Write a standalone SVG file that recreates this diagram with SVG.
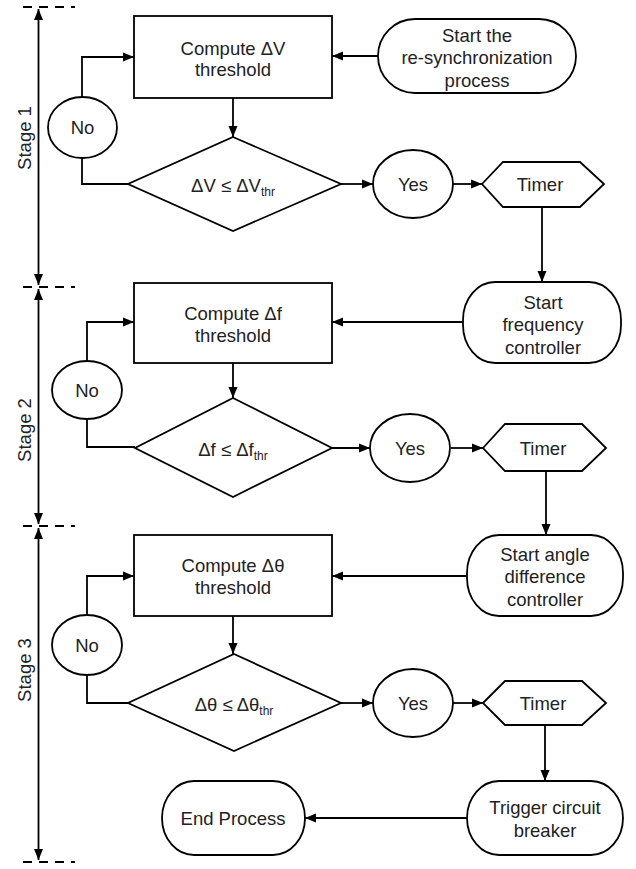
<svg xmlns="http://www.w3.org/2000/svg" width="636" height="869" viewBox="0 0 636 869">
<style>
.s{fill:#fff;stroke:#000;stroke-width:1.8}
.t{font-family:"Liberation Sans",Arial,sans-serif;font-size:18.5px;fill:#222;text-anchor:middle}
.c{fill:none;stroke:#000;stroke-width:1.8}
.d{fill:none;stroke:#000;stroke-width:1.8;stroke-dasharray:9,7}
</style>
<defs>
<marker id="a" markerUnits="userSpaceOnUse" markerWidth="12" markerHeight="10" refX="11" refY="5" orient="auto"><path d="M0,0.5 L11,5 L0,9.5 z" fill="#000"/></marker>
<marker id="b" markerUnits="userSpaceOnUse" markerWidth="12" markerHeight="10" refX="1" refY="5" orient="auto"><path d="M12,0.5 L1,5 L12,9.5 z" fill="#000"/></marker>
</defs>
<g id="stages">
<path class="d" d="M23,7 H75 M23,287 H75 M23,526 H75 M23,862 H75"/>
<path class="c" d="M38.5,9 V285" marker-start="url(#b)" marker-end="url(#a)"/>
<path class="c" d="M38.5,289 V524" marker-start="url(#b)" marker-end="url(#a)"/>
<path class="c" d="M38.5,528 V860" marker-start="url(#b)" marker-end="url(#a)"/>
<text class="t" transform="translate(31,138) rotate(-90)">Stage 1</text>
<text class="t" transform="translate(31,430) rotate(-90)">Stage 2</text>
<text class="t" transform="translate(31,670) rotate(-90)">Stage 3</text>
</g>
<g id="connectors">
<path class="c" d="M378,56 H332" marker-end="url(#a)"/>
<path class="c" d="M233,98 V137" marker-end="url(#a)"/>
<path class="c" d="M128,184 H82 V158"/>
<path class="c" d="M82,97 V57 H134" marker-end="url(#a)"/>
<path class="c" d="M341,184 H373" marker-end="url(#a)"/>
<path class="c" d="M453,184 H482" marker-end="url(#a)"/>
<path class="c" d="M542,207 V282" marker-end="url(#a)"/>
<path class="c" d="M463,322 H332" marker-end="url(#a)"/>
<path class="c" d="M233,363 V398" marker-end="url(#a)"/>
<path class="c" d="M135,447 H87 V419"/>
<path class="c" d="M87,361 V322 H134" marker-end="url(#a)"/>
<path class="c" d="M332,448 H370" marker-end="url(#a)"/>
<path class="c" d="M451,448 H483" marker-end="url(#a)"/>
<path class="c" d="M546,471 V535" marker-end="url(#a)"/>
<path class="c" d="M467,576 H332" marker-end="url(#a)"/>
<path class="c" d="M233,616 V654" marker-end="url(#a)"/>
<path class="c" d="M128,703 H87 V675"/>
<path class="c" d="M87,615 V576 H134" marker-end="url(#a)"/>
<path class="c" d="M341,703 H373" marker-end="url(#a)"/>
<path class="c" d="M453,703 H483" marker-end="url(#a)"/>
<path class="c" d="M545,725 V781" marker-end="url(#a)"/>
<path class="c" d="M467,818 H305" marker-end="url(#a)"/>
</g>
<g id="start1"><rect class="s" x="378" y="19" width="198" height="74" rx="37" ry="37"/>
<text class="t"><tspan x="477" y="41.5">Start the</tspan><tspan x="477" y="64">re-synchronization</tspan><tspan x="477" y="86.5">process</tspan></text></g>
<g id="compute1"><rect class="s" x="134" y="16" width="198" height="82"/>
<text class="t"><tspan x="233" y="54.5">Compute ΔV</tspan><tspan x="233" y="76">threshold</tspan></text></g>
<g id="dec1"><polygon class="s" points="233,137 341,184 233,231 128,184"/>
<text class="t" x="233" y="192">ΔV ≤ ΔV<tspan dy="4" font-size="12">thr</tspan></text></g>
<g id="no1"><ellipse class="s" cx="82.5" cy="127.5" rx="34.5" ry="30.5"/><text class="t" x="82.5" y="134">No</text></g>
<g id="yes1"><ellipse class="s" cx="413" cy="184" rx="40" ry="34"/><text class="t" x="413" y="190.5">Yes</text></g>
<g id="timer1"><polygon class="s" points="482,184 503,162 580,162 604,184 580,207 503,207"/><text class="t" x="540" y="190.5">Timer</text></g>
<g id="start2"><rect class="s" x="463" y="282" width="158" height="81" rx="32" ry="38"/>
<text class="t"><tspan x="543" y="308.5">Start</tspan><tspan x="543" y="331">frequency</tspan><tspan x="543" y="353.5">controller</tspan></text></g>
<g id="compute2"><rect class="s" x="134" y="283" width="198" height="80"/>
<text class="t"><tspan x="233" y="319.5">Compute Δf</tspan><tspan x="233" y="341.5">threshold</tspan></text></g>
<g id="dec2"><polygon class="s" points="233,398 332,448 233,497 135,448"/>
<text class="t" x="233" y="456">Δf ≤ Δf<tspan dy="4" font-size="12">thr</tspan></text></g>
<g id="no2"><ellipse class="s" cx="87" cy="390" rx="35" ry="29"/><text class="t" x="87" y="396.5">No</text></g>
<g id="yes2"><ellipse class="s" cx="410" cy="448" rx="40" ry="34"/><text class="t" x="410" y="454.5">Yes</text></g>
<g id="timer2"><polygon class="s" points="483,448 505,424 582,424 606,448 582,471 505,471"/><text class="t" x="543" y="454.5">Timer</text></g>
<g id="start3"><rect class="s" x="467" y="535" width="156" height="81" rx="32" ry="38"/>
<text class="t"><tspan x="545" y="560.5">Start angle</tspan><tspan x="545" y="583">difference</tspan><tspan x="545" y="605.5">controller</tspan></text></g>
<g id="compute3"><rect class="s" x="134" y="535" width="198" height="81"/>
<text class="t"><tspan x="233" y="571.5">Compute Δθ</tspan><tspan x="233" y="593.5">threshold</tspan></text></g>
<g id="dec3"><polygon class="s" points="234,654 341,703 234,751 128,703"/>
<text class="t" x="234" y="711">Δθ ≤ Δθ<tspan dy="4" font-size="12">thr</tspan></text></g>
<g id="no3"><ellipse class="s" cx="87" cy="645" rx="35" ry="30"/><text class="t" x="87" y="651.5">No</text></g>
<g id="yes3"><ellipse class="s" cx="413" cy="703" rx="40" ry="34"/><text class="t" x="413" y="709.5">Yes</text></g>
<g id="timer3"><polygon class="s" points="483,703 505,681 582,681 606,703 582,725 505,725"/><text class="t" x="543" y="709.5">Timer</text></g>
<g id="trigger"><rect class="s" x="467" y="781" width="156" height="74" rx="32" ry="37"/>
<text class="t"><tspan x="545" y="813.5">Trigger circuit</tspan><tspan x="545" y="836.5">breaker</tspan></text></g>
<g id="end"><rect class="s" x="162" y="781" width="143" height="74" rx="32" ry="37"/>
<text class="t" x="233" y="824.5">End Process</text></g>
</svg>
